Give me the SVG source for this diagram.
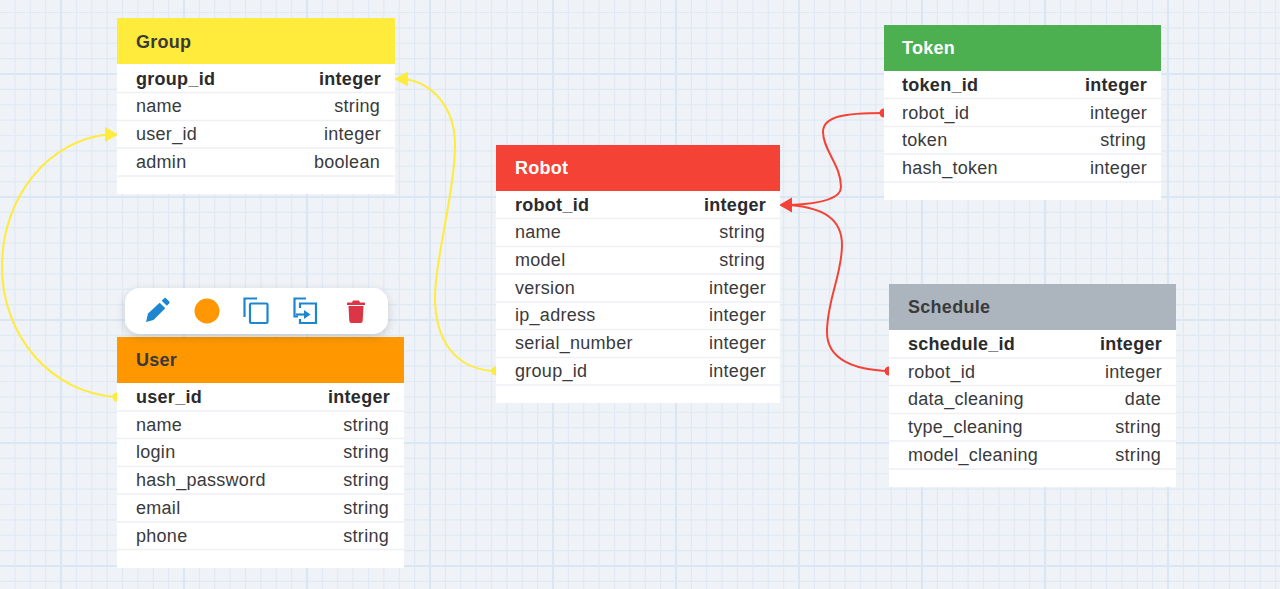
<svg xmlns="http://www.w3.org/2000/svg" width="1280" height="589" viewBox="0 0 1280 589">
<style>
text{font-family:"Liberation Sans",Arial,sans-serif;font-size:18px;letter-spacing:.28px;fill:#3a3a3c}
.h{font-weight:700}
.k{font-weight:700;fill:#2b2b2d}
.r{text-anchor:end}
.sep{stroke:#eef0f3;stroke-width:1.5}
.body{fill:#fff}
.y{fill:none;stroke:#ffeb3b;stroke-width:2}
.o{fill:none;stroke:#f44336;stroke-width:2}
.ic{fill:none;stroke:#1c86d1;stroke-width:2.2}
</style>
<defs>
<pattern id="grid" width="123" height="123" patternUnits="userSpaceOnUse" patternTransform="translate(61 74)">
<path d="M15.4 0V123M30.75 0V123M46.1 0V123M61.5 0V123M76.9 0V123M92.25 0V123M107.6 0V123M0 15.4H123M0 30.75H123M0 46.1H123M0 61.5H123M0 76.9H123M0 92.25H123M0 107.6H123" stroke="#e0e9f4" stroke-width="1.2" fill="none"/>
<path d="M0 0V123M123 0V123M0 0H123M0 123H123" stroke="#dbe6f5" stroke-width="2.2" fill="none"/>
</pattern>
<filter id="sh" x="-10%" y="-30%" width="120%" height="170%"><feDropShadow dx="0" dy="3" stdDeviation="5" flood-color="#000" flood-opacity=".16"/></filter>
</defs>
<rect width="1280" height="589" fill="#eff2f6"/>
<rect width="1280" height="589" fill="url(#grid)"/>
<g id="connectors">
<path class="y" d="M117 397C50 393 2 335 2 267C2 195 50 140 108 134.500"/>
<path d="M118 134.500L105 127V142Z" fill="#ffeb3b"/>
<circle cx="117" cy="397" r="4.500" fill="#ffeb3b"/>
<path class="y" d="M496 371C455 370 435 340 435 297C435 260 455 190 455 145C455 105 430 82 404 79"/>
<path d="M394 79L408 71.500V86.500Z" fill="#ffeb3b"/>
<circle cx="496" cy="371" r="4.500" fill="#ffeb3b"/>
<path class="o" d="M884 113C845 113 823 116 823 132C823 150 841 165 841 187C841 200 815 204 790 205"/>
<circle cx="884" cy="113" r="4.500" fill="#f44336"/>
<path class="o" d="M889 371C855 370 827 360 827 332C827 300 842 275 842 245C842 220 825 208 790 205"/>
<circle cx="889" cy="371" r="4.500" fill="#f44336"/>
<path d="M779 205L792 197.500V212.500Z" fill="#f44336"/>
</g>
<g id="node-group">
<rect class="body" x="117" y="18" width="278" height="176"/>
<rect x="117" y="18" width="278" height="46" fill="#ffeb3b"/>
<text class="h" x="136" y="47.500">Group</text>
<path class="sep" d="M117 92.500H395M117 120.500H395M117 148H395M117 176H395"/>
<text class="k" x="136" y="84.500">group_id</text><text class="k r" x="381" y="84.500">integer</text>
<text x="136" y="112">name</text><text class="r" x="380" y="112">string</text>
<text x="136" y="140">user_id</text><text class="r" x="381" y="140">integer</text>
<text x="136" y="167.500">admin</text><text class="r" x="380" y="167.500">boolean</text>
</g>
<g id="node-token">
<rect class="body" x="884" y="25" width="277" height="175"/>
<rect x="884" y="25" width="277" height="46" fill="#4caf50"/>
<text class="h" x="902" y="53.500" style="fill:#fff">Token</text>
<path class="sep" d="M884 98.500H1161M884 126.500H1161M884 154H1161M884 182H1161"/>
<text class="k" x="902" y="91">token_id</text><text class="k r" x="1147" y="91">integer</text>
<text x="902" y="118.500">robot_id</text><text class="r" x="1147" y="118.500">integer</text>
<text x="902" y="146">token</text><text class="r" x="1146" y="146">string</text>
<text x="902" y="174">hash_token</text><text class="r" x="1147" y="174">integer</text>
</g>
<g id="node-robot">
<rect class="body" x="496" y="145" width="284" height="258"/>
<rect x="496" y="145" width="284" height="46" fill="#f44336"/>
<text class="h" x="515" y="173.500" style="fill:#fff">Robot</text>
<path class="sep" d="M496 218.500H780M496 246.500H780M496 274H780M496 302H780M496 329.500H780M496 357.500H780M496 385H780"/>
<text class="k" x="515" y="210.500">robot_id</text><text class="k r" x="766" y="210.500">integer</text>
<text x="515" y="238">name</text><text class="r" x="765" y="238">string</text>
<text x="515" y="266">model</text><text class="r" x="765" y="266">string</text>
<text x="515" y="293.500">version</text><text class="r" x="766" y="293.500">integer</text>
<text x="515" y="321">ip_adress</text><text class="r" x="766" y="321">integer</text>
<text x="515" y="349">serial_number</text><text class="r" x="766" y="349">integer</text>
<text x="515" y="377">group_id</text><text class="r" x="766" y="377">integer</text>
</g>
<g id="node-schedule">
<rect class="body" x="889" y="284" width="287" height="203"/>
<rect x="889" y="284" width="287" height="46" fill="#acb5bd"/>
<text class="h" x="908" y="313">Schedule</text>
<path class="sep" d="M889 358H1176M889 385.500H1176M889 413.500H1176M889 441H1176M889 469H1176"/>
<text class="k" x="908" y="350">schedule_id</text><text class="k r" x="1162" y="350">integer</text>
<text x="908" y="377.500">robot_id</text><text class="r" x="1162" y="377.500">integer</text>
<text x="908" y="405">data_cleaning</text><text class="r" x="1161" y="405">date</text>
<text x="908" y="433">type_cleaning</text><text class="r" x="1161" y="433">string</text>
<text x="908" y="461">model_cleaning</text><text class="r" x="1161" y="461">string</text>
</g>
<g id="node-user">
<rect class="body" x="117" y="337" width="287" height="231"/>
<rect x="117" y="337" width="287" height="46" fill="#ff9800"/>
<text class="h" x="136" y="365.500">User</text>
<path class="sep" d="M117 411H404M117 438.500H404M117 466.500H404M117 494H404M117 522H404M117 549.500H404"/>
<text class="k" x="136" y="403">user_id</text><text class="k r" x="390" y="403">integer</text>
<text x="136" y="430.500">name</text><text class="r" x="389" y="430.500">string</text>
<text x="136" y="458">login</text><text class="r" x="389" y="458">string</text>
<text x="136" y="486">hash_password</text><text class="r" x="389" y="486">string</text>
<text x="136" y="514">email</text><text class="r" x="389" y="514">string</text>
<text x="136" y="541.500">phone</text><text class="r" x="389" y="541.500">string</text>
</g>
<g id="toolbar">
<rect x="125" y="288" width="263" height="46" rx="15" fill="#fff" filter="url(#sh)"/>
<path d="M146 322L148 313.500L159.700 302.700L165.300 308.300L153.500 320ZM161.700 300.700L164.200 298.200Q165 297.500 166 298.200L169.300 301.500Q170 302.500 169.300 303.300L166.800 305.800Z" fill="#1c86d1"/>
<circle cx="207" cy="311" r="12.500" fill="#ff9800"/>
<path class="ic" d="M257 298.500H244.500V317"/>
<rect class="ic" x="250" y="303.500" width="17.500" height="19.500" rx="1"/>
<path class="ic" d="M306 298.500H294.500V316.500H298M300 308V303.500H316V323H300V319"/>
<path class="ic" d="M296 314.500H305"/>
<path d="M304 310L310.500 314.500L304 319Z" fill="#1c86d1"/>
<path d="M347 303Q347 302.500 348 302.500H352L353 300.500H359L360 302.500H364Q365 302.500 365 303V305H347ZM348.500 306H363.500L362.700 321Q362.500 323 360.500 323H351.500Q349.500 323 349.300 321Z" fill="#dc3545"/>
</g>
</svg>
